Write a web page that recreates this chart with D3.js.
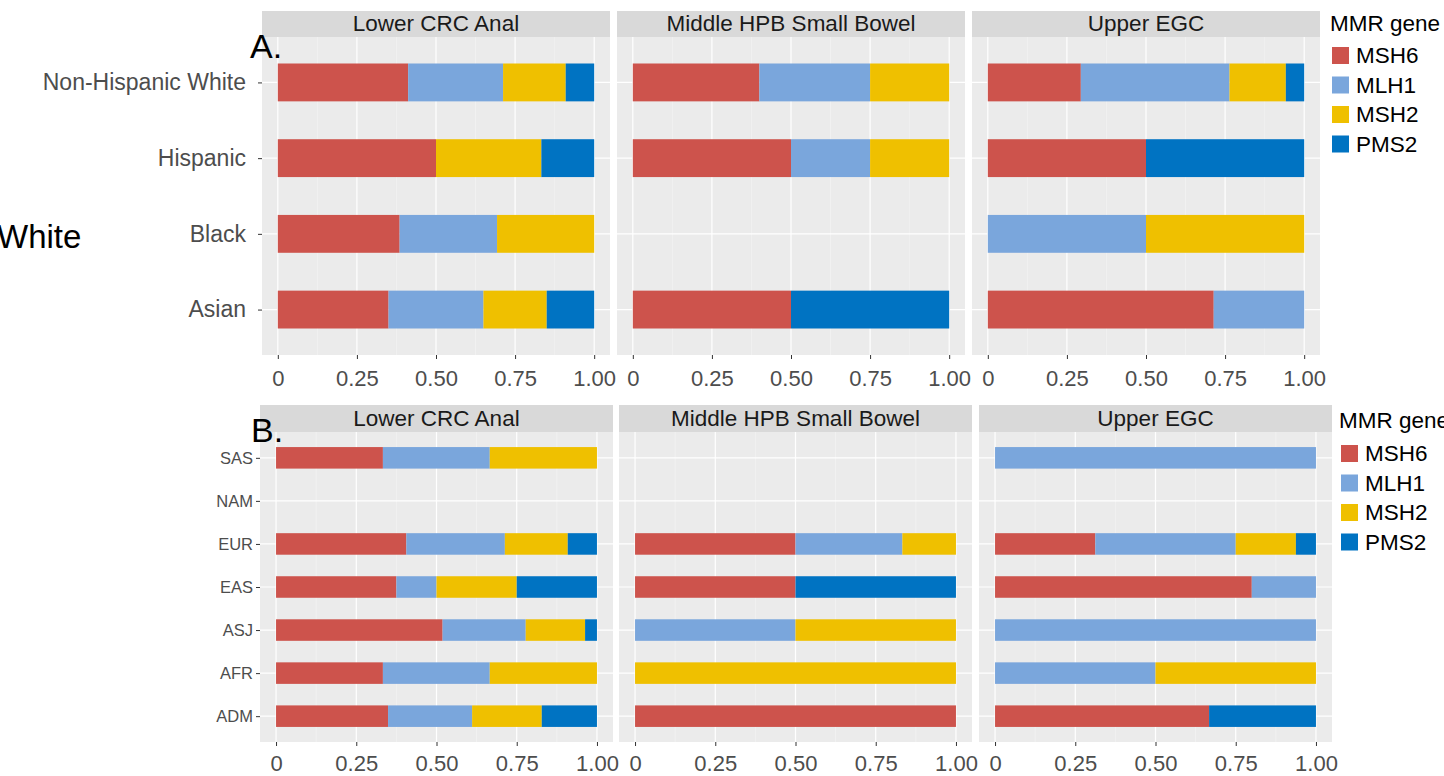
<!DOCTYPE html>
<html lang="en">
<head>
<meta charset="UTF-8">
<title>MMR gene by ancestry</title>
<script src="https://cdn.jsdelivr.net/npm/d3@7"></script>
<style>
  body { margin: 0; background: #fff; }
  svg { display: block; font-family: "Liberation Sans", Arial, sans-serif; }
</style>
</head>
<body>
<script>
// genes in stacking order (left to right)
var genes = ["MSH6", "MLH1", "MSH2", "PMS2"];
var geneColors = ["#CD534C", "#7AA6DC", "#EFC000", "#0073C2"];

var sites = ["Lower CRC Anal", "Middle HPB Small Bowel", "Upper EGC"];
var xTicks = [0, 0.25, 0.5, 0.75, 1];
var xTickLabels = ["0", "0.25", "0.50", "0.75", "1.00"];

// panel A: self reported race / ethnicity
var groupsA = ["Non-Hispanic White", "Hispanic", "Black", "Asian"];
// each row: [MSH6, MLH1, MSH2, PMS2] proportions
var lowerA = [[0.412, 0.300, 0.198, 0.090], [0.500, 0, 0.333, 0.167], [0.385, 0.308, 0.307, 0], [0.350, 0.300, 0.200, 0.150]];
var middleA = [[0.400, 0.350, 0.250, 0], [0.500, 0.250, 0.250, 0], [0, 0, 0, 0], [0.500, 0, 0, 0.500]];
var upperA = [[0.294, 0.470, 0.178, 0.058], [0.500, 0, 0, 0.500], [0, 0.500, 0.500, 0], [0.714, 0.286, 0, 0]];

// panel B: genetic ancestry
var groupsB = ["SAS", "NAM", "EUR", "EAS", "ASJ", "AFR", "ADM"];
var lowerB = [[0.333, 0.333, 0.334, 0], [0, 0, 0, 0], [0.406, 0.307, 0.196, 0.091], [0.375, 0.125, 0.250, 0.250],
              [0.519, 0.259, 0.185, 0.037], [0.333, 0.333, 0.334, 0], [0.349, 0.262, 0.217, 0.172]];
var middleB = [[0, 0, 0, 0], [0, 0, 0, 0], [0.500, 0.333, 0.167, 0], [0.500, 0, 0, 0.500],
               [0, 0.500, 0.500, 0], [0, 0, 1, 0], [1, 0, 0, 0]];
var upperB = [[0, 1, 0, 0], [0, 0, 0, 0], [0.3125, 0.4375, 0.1875, 0.0625], [0.800, 0.200, 0, 0],
              [0, 1, 0, 0], [0, 0.500, 0.500, 0], [0.667, 0, 0, 0.333]];

var W = 1444, H = 776;
var svg = d3.select("body").append("svg").attr("width", W).attr("height", H);

var color = d3.scaleOrdinal().domain(genes).range(geneColors);

function drawSection(cfg) {
  cfg.data.forEach(function (rows, p) {
    var x0 = cfg.panelX[p];
    var x = d3.scaleLinear().domain([-0.05, 1.05]).range([x0, x0 + cfg.panelW]);
    var y = d3.scalePoint().domain(cfg.groups).range([cfg.top, cfg.bottom]).padding(0.6);
    var barH = y.step() * 0.5;
    var g = svg.append("g");

    // strip
    g.append("rect")
      .attr("x", x0).attr("y", cfg.stripTop)
      .attr("width", cfg.panelW).attr("height", cfg.top - cfg.stripTop)
      .attr("fill", "#D9D9D9");
    g.append("text")
      .attr("x", x0 + cfg.panelW / 2).attr("y", cfg.stripBase)
      .attr("text-anchor", "middle")
      .attr("font-size", cfg.stripFont)
      .attr("fill", "#1A1A1A")
      .text(sites[p]);

    // panel background and grid
    g.append("rect")
      .attr("x", x0).attr("y", cfg.top)
      .attr("width", cfg.panelW).attr("height", cfg.bottom - cfg.top)
      .attr("fill", "#EBEBEB");
    g.selectAll(".minor")
      .data([0.125, 0.375, 0.625, 0.875])
      .enter().append("line")
      .attr("x1", d => x(d)).attr("x2", d => x(d))
      .attr("y1", cfg.top).attr("y2", cfg.bottom)
      .attr("stroke", "#F5F5F5").attr("stroke-width", 0.6);
    g.selectAll(".vmajor")
      .data(xTicks)
      .enter().append("line")
      .attr("x1", d => x(d)).attr("x2", d => x(d))
      .attr("y1", cfg.top).attr("y2", cfg.bottom)
      .attr("stroke", "#fff").attr("stroke-width", 1.2);
    g.selectAll(".hmajor")
      .data(cfg.groups)
      .enter().append("line")
      .attr("x1", x0).attr("x2", x0 + cfg.panelW)
      .attr("y1", d => y(d)).attr("y2", d => y(d))
      .attr("stroke", "#fff").attr("stroke-width", 1.2);

    // stacked bars
    var table = rows.map(function (r, i) {
      var o = { group: cfg.groups[i] };
      genes.forEach(function (k, j) { o[k] = r[j]; });
      return o;
    });
    var series = d3.stack().keys(genes)(table);
    g.selectAll(".layer")
      .data(series)
      .enter().append("g")
      .attr("fill", d => color(d.key))
      .selectAll("rect")
      .data(d => d.filter(s => s[1] - s[0] > 0))
      .enter().append("rect")
      .attr("x", d => x(d[0]))
      .attr("y", d => y(d.data.group) - barH / 2)
      .attr("width", d => x(d[1]) - x(d[0]))
      .attr("height", barH);

    // x axis
    var xAxis = d3.axisBottom(x)
      .tickValues(xTicks)
      .tickFormat((d, i) => xTickLabels[i])
      .tickSize(4).tickPadding(cfg.xPad);
    var ax = g.append("g")
      .attr("transform", "translate(0," + cfg.bottom + ")")
      .call(xAxis);
    ax.select(".domain").remove();
    ax.selectAll("line").attr("stroke", "#333");
    ax.selectAll("text").attr("font-size", cfg.xFont).attr("fill", "#4D4D4D")
      .attr("font-family", "Liberation Sans, Arial, sans-serif");

    // y axis on first panel only
    if (p === 0) {
      var yAxis = d3.axisLeft(y).tickSize(4).tickPadding(cfg.yPad);
      var ay = g.append("g")
        .attr("transform", "translate(" + x0 + ",0)")
        .call(yAxis);
      ay.select(".domain").remove();
      ay.selectAll("line").attr("stroke", "#333");
      ay.selectAll("text").attr("font-size", cfg.yFont).attr("fill", "#4D4D4D")
        .attr("font-family", "Liberation Sans, Arial, sans-serif");
    }
  });

  // legend
  var lg = svg.append("g");
  lg.append("text")
    .attr("x", cfg.legX - 2).attr("y", cfg.legTitle)
    .attr("font-size", 22.5).attr("fill", "#000")
    .text("MMR gene");
  var items = lg.selectAll(".item")
    .data(genes)
    .enter().append("g")
    .attr("transform", (d, i) => "translate(" + cfg.legX + "," + (cfg.legTop + i * 29.5) + ")");
  items.append("rect")
    .attr("width", 17).attr("height", 17)
    .attr("fill", d => color(d));
  items.append("text")
    .attr("x", 24).attr("y", 8.5).attr("dy", "0.35em")
    .attr("font-size", 22.5).attr("fill", "#000")
    .text(d => d);

  // section letter
  svg.append("text")
    .attr("x", cfg.letterX).attr("y", cfg.letterY)
    .attr("font-size", 34).attr("fill", "#000")
    .text(cfg.letter);
}

drawSection({
  groups: groupsA, data: [lowerA, middleA, upperA],
  panelX: [262, 617, 972], panelW: 348,
  stripTop: 11, top: 37, bottom: 355, stripBase: 31, stripFont: 22.5,
  xFont: 22, xPad: 11, yFont: 23, yPad: 12,
  legX: 1332, legTitle: 31, legTop: 47,
  letter: "A.", letterX: 250, letterY: 58
});

drawSection({
  groups: groupsB, data: [lowerB, middleB, upperB],
  panelX: [260, 619, 979], panelW: 353,
  stripTop: 405, top: 432, bottom: 742, stripBase: 426, stripFont: 22.5,
  xFont: 22, xPad: 9, yFont: 16.5, yPad: 3,
  legX: 1341, legTitle: 428, legTop: 445,
  letter: "B.", letterX: 251, letterY: 442
});

// fragment of a cropped label on the left edge
svg.append("text")
  .attr("x", -3).attr("y", 248)
  .attr("font-size", 33).attr("fill", "#000")
  .text("White");
</script>
</body>
</html>
